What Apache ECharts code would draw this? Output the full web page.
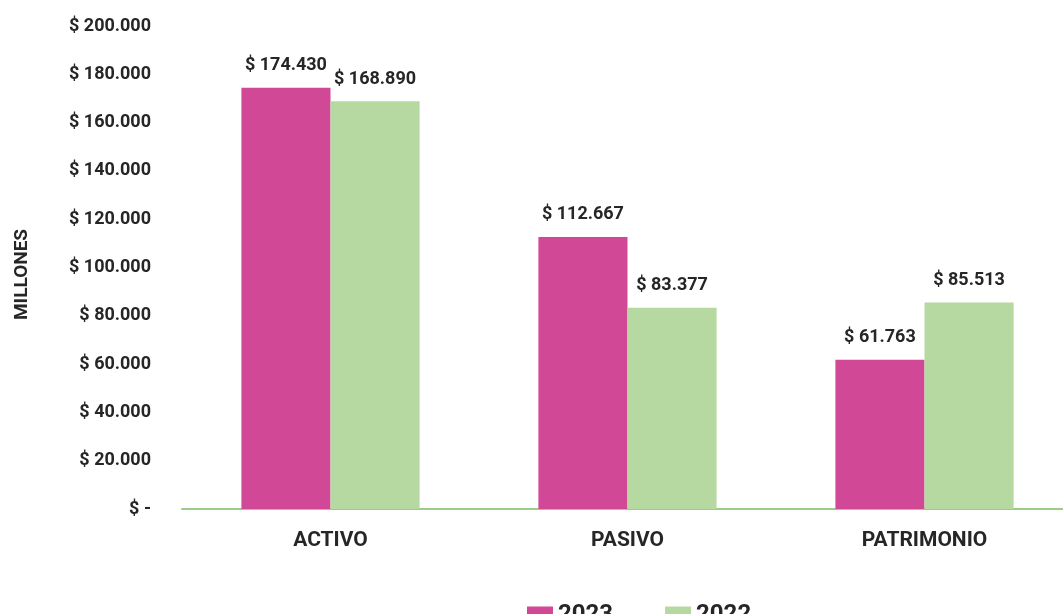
<!DOCTYPE html>
<html>
<head>
<meta charset="utf-8">
<script src="https://cdn.jsdelivr.net/npm/echarts@6/dist/echarts.min.js"></script>
<style>
  html, body { margin: 0; padding: 0; background: #fff; }
  #chart { width: 1063px; height: 614px; }
</style>
</head>
<body>
<div id="chart"></div>
<script>
// datos en millones
const categorias = ['ACTIVO', 'PASIVO', 'PATRIMONIO']
const anios = ['2023', '2022']
const valores2023 = [174430, 112667, 61763]
const valores2022 = [168890, 83377, 85513]
const ejeMax = 200000
const ejeIntervalo = 20000

const colores = ['#D04896', '#B6D9A2']
const textColor = '#262626'
const fuente = 'Roboto'

function pesos (v) {
  if (v === 0) return '$ -'
  return '$ ' + v.toString().replace(/\B(?=(\d{3})+(?!\d))/g, '.')
}

const chart = echarts.init(document.getElementById('chart'))

const labelStyle = {
  show: true,
  position: 'top',
  distance: 13,
  color: textColor,
  fontFamily: fuente,
  fontWeight: 'bold',
  fontSize: 18,
  formatter: (p) => pesos(p.value)
}

chart.setOption({
  animation: false,
  textStyle: { fontFamily: fuente },
  grid: { left: 182, right: -10, top: 26, bottom: 105, outerBoundsMode: 'none' },
  legend: {
    data: anios,
    left: 522,
    top: 598,
    itemWidth: 26,
    itemHeight: 17,
    itemGap: 52,
    icon: 'rect',
    textStyle: { color: textColor, fontFamily: fuente, fontWeight: 'bold', fontSize: 24 }
  },
  xAxis: {
    type: 'category',
    data: categorias,
    axisTick: { show: false },
    axisLine: { lineStyle: { color: '#9ACD85', width: 2 } },
    axisLabel: { color: textColor, fontFamily: fuente, fontWeight: 'bold', fontSize: 21, margin: 21 }
  },
  yAxis: {
    type: 'value',
    min: 0,
    max: ejeMax,
    interval: ejeIntervalo,
    name: 'MILLONES',
    nameLocation: 'middle',
    nameRotate: 90,
    nameGap: 150,
    nameTextStyle: { color: textColor, fontFamily: fuente, fontWeight: 'bold', fontSize: 19, padding: [0, 14, 0, 0] },
    axisLine: { show: false },
    axisTick: { show: false },
    splitLine: { show: false },
    axisLabel: { color: textColor, fontFamily: fuente, fontWeight: 'bold', fontSize: 18, margin: 31, formatter: pesos }
  },
  series: [
    {
      name: anios[0],
      type: 'bar',
      data: valores2023,
      barGap: '0%',
      barCategoryGap: '40%',
      itemStyle: { color: colores[0] },
      label: labelStyle
    },
    {
      name: anios[1],
      type: 'bar',
      data: valores2022,
      barGap: '0%',
      barCategoryGap: '40%',
      itemStyle: { color: colores[1] },
      label: labelStyle
    }
  ]
})
</script>
</body>
</html>
